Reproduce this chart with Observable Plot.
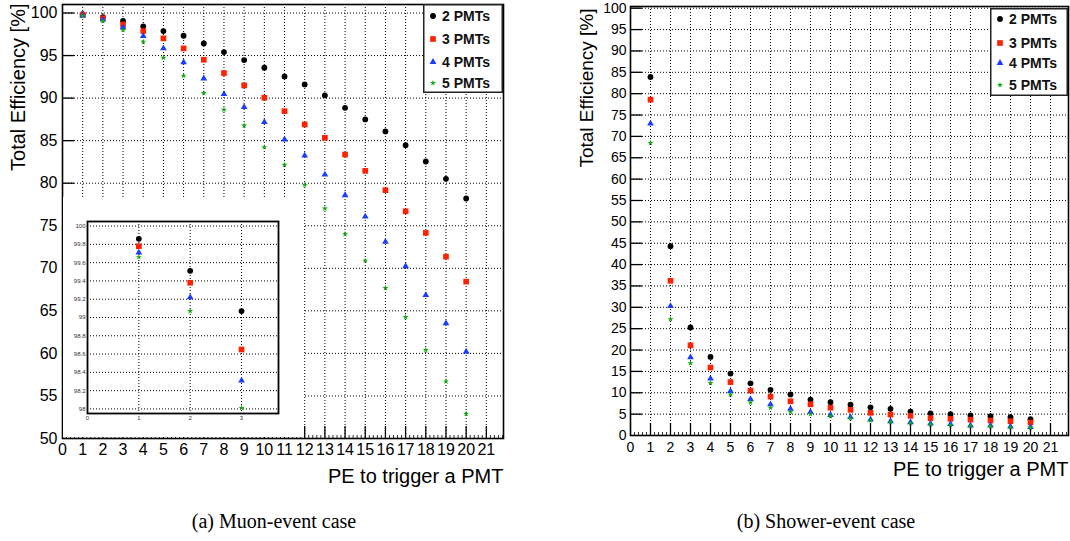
<!DOCTYPE html>
<html><head><meta charset="utf-8">
<script src="https://cdn.jsdelivr.net/npm/d3@7"></script>
<script src="https://cdn.jsdelivr.net/npm/@observablehq/plot@0.6"></script>
<style>
body{margin:0;background:#fff;}
#wrap{position:relative;width:1070px;height:541px;overflow:hidden;font-family:"Liberation Sans",Arial,sans-serif;}
#wrap svg{position:absolute;}
.cap{position:absolute;top:510px;font-family:"Liberation Serif","Times New Roman",serif;font-size:20px;white-space:nowrap;transform:translateX(-50%);color:#000;}
</style></head><body><div id="wrap"></div>
<script>
// ---------- data ----------
const pe = [1,2,3,4,5,6,7,8,9,10,11,12,13,14,15,16,17,18,19,20];
const seriesNames = ["2 PMTs","3 PMTs","4 PMTs","5 PMTs"];
// (a) Muon-event case
const muon2 = [99.86,99.51,99.07,98.43,97.88,97.33,96.43,95.41,94.47,93.57,92.55,91.61,90.31,88.86,87.49,86.08,84.47,82.55,80.51,78.2];
const muon3 = [99.78,99.38,98.65,97.88,97.02,95.84,94.51,92.94,91.49,90.04,88.47,86.9,85.33,83.37,81.45,79.18,76.7,74.16,71.37,68.43];
const muon4 = [99.71,99.22,98.31,97.29,95.84,94.2,92.31,90.47,88.94,87.18,85.14,83.25,81.02,78.59,76.08,73.1,70.24,66.86,63.53,60.2];
const muon5 = [99.66,99.07,98.01,96.63,94.74,92.63,90.59,88.63,86.78,84.24,82.16,79.8,77.02,74.04,70.9,67.68,64.27,60.39,56.7,52.9];
// (b) Shower-event case
const shower2 = [83.9,44.3,25.3,18.4,14.5,12.2,10.7,9.6,8.4,7.8,7.2,6.6,6.25,5.6,5.2,5.0,4.7,4.5,4.3,3.8];
const shower3 = [78.6,36.2,21.1,15.9,12.5,10.5,9.1,8.0,7.3,6.5,6.0,5.3,4.9,4.6,4.05,3.9,3.7,3.5,3.35,3.05];
const shower4 = [73.0,30.3,18.3,13.3,10.4,8.5,7.3,6.25,5.5,4.8,4.3,3.75,3.35,3.1,2.8,2.65,2.35,2.3,2.1,1.95];
const shower5 = [68.5,27.2,16.9,12.3,9.6,7.7,6.5,5.5,5.0,4.5,4.0,3.5,3.1,2.9,2.6,2.4,2.2,2.1,1.9,1.8];
// ticks
const xTicks = [0,1,2,3,4,5,6,7,8,9,10,11,12,13,14,15,16,17,18,19,20,21];
const xGrid = xTicks.slice(1);
const xMinor = d3.range(0,110).filter(i => i % 5 !== 0).map(i => i / 5);
const muonYTicks = [50,55,60,65,70,75,80,85,90,95,100];
const showerYTicks = [0,5,10,15,20,25,30,35,40,45,50,55,60,65,70,75,80,85,90,95,100];
const insetXTicks = [0,1,2,3];
const insetYTicks = [98,98.2,98.4,98.6,98.8,99,99.2,99.4,99.6,99.8,100];
const insetPE = pe.slice(0,3);

// ---------- styles ----------
const FONT = '"Liberation Sans", Arial, Helvetica, sans-serif';
const styles = [
  {symbol:"circle",   d3sym:d3.symbolCircle,   color:"#000000", r:2.9},
  {symbol:"square",   d3sym:d3.symbolSquare,   color:"#ff2200", r:3.2},
  {symbol:"triangle", d3sym:d3.symbolTriangle, color:"#1a3dff", r:2.5},
  {symbol:"star",     d3sym:d3.symbolStar,     color:"#14a814", r:1.9}
];
const rows = (xs, ys) => xs.map((p,i) => ({pe:p, eff:ys[i]}));
const dots = (sets) => sets.map((arr,k) => Plot.dot(arr, {x:"pe", y:"eff", symbol:styles[k].symbol, fill:styles[k].color, r:styles[k].r, stroke:"none"}));
const dotted = {stroke:"#000", strokeOpacity:1, strokeDasharray:"1,2", strokeWidth:1};

const W = 535, H = 490;
function mainPanel(o) {
  const plotW = W - o.ml - o.mr, plotH = H - o.mt - o.mb;
  return Plot.plot({
    width:W, height:H, marginLeft:o.ml, marginRight:o.mr, marginTop:o.mt, marginBottom:o.mb,
    style:{fontFamily:FONT, fontSize:o.fs+"px", background:"transparent", color:"#000"},
    x:{domain:o.xDomain},
    y:{domain:o.yDomain},
    marks:[
      Plot.gridX(xGrid, dotted),
      Plot.gridY(o.yTicks.slice(1), dotted),
      Plot.tickX(xGrid, {x:d=>d, insetTop:plotH-12, stroke:"#000", strokeWidth:1.3}),
      Plot.tickX(xMinor, {x:d=>d, insetTop:plotH-3, stroke:"#000", strokeWidth:0.8}),
      Plot.tickY(o.yTicks.slice(1), {y:d=>d, insetRight:plotW-12, stroke:"#000", strokeWidth:1.3}),
      Plot.axisX(xTicks, {tickSize:0, tickPadding:o.xpad, label:null, fontSize:o.fs, tickFormat:d=>String(d)}),
      Plot.axisY(o.yTicks, {tickSize:0, tickPadding:o.ypad, label:null, fontSize:o.fs, tickFormat:d=>String(d)}),
      ...dots(o.sets),
      Plot.frame({stroke:"#000", strokeWidth:1.6}),
      Plot.text([o.ytitle], {text:d=>d, frameAnchor:"top-left", rotate:-90, textAnchor:"end", dx:o.ytdx, dy:o.ytdy, fontSize:o.ytfs, fill:"#000"}),
      Plot.text([o.xtitle], {text:d=>d, frameAnchor:"bottom-right", textAnchor:"end", dy:o.xtdy, fontSize:20, fill:"#000"})
    ]
  });
}

const wrap = document.getElementById("wrap");

// (a)
const left = mainPanel({ml:62, mr:32, mt:4, mb:52, fs:16, xpad:5, ypad:5,
  xDomain:[0,21.85], yDomain:[50,101], yTicks:muonYTicks,
  sets:[rows(pe,muon2),rows(pe,muon3),rows(pe,muon4),rows(pe,muon5)],
  ytitle:"Total Efficiency [%]", ytdx:-52, ytdy:-1, ytfs:20,
  xtitle:"PE to trigger a PMT", xtdy:44});
left.style.left = "0px"; left.style.top = "0px";
wrap.appendChild(left);

// inset
const inset = Plot.plot({
  width:240, height:240, marginLeft:24, marginRight:25, marginTop:24, marginBottom:24,
  style:{fontFamily:FONT, fontSize:"6px", background:"#fff", color:"#000"},
  x:{domain:[0,3.72]}, y:{domain:[97.95,100.05]},
  marks:[
    Plot.gridX(insetXTicks.slice(1), dotted),
    Plot.gridY(insetYTicks, dotted),
    Plot.axisX(insetXTicks, {tickSize:0, tickPadding:2, label:null, fontSize:6, fill:"#333", tickFormat:d=>String(d)}),
    Plot.axisY(insetYTicks, {tickSize:0, tickPadding:2, label:null, fontSize:6, fill:"#333", tickFormat:d=>String(d)}),
    ...dots([rows(insetPE,muon2),rows(insetPE,muon3),rows(insetPE,muon4),rows(insetPE,muon5)]),
    Plot.frame({stroke:"#000", strokeWidth:1.8})
  ]
});
inset.style.left = "63px"; inset.style.top = "197px";
wrap.appendChild(inset);

// (b)
const right = mainPanel({ml:95, mr:2, mt:6, mb:55, fs:14, xpad:7, ypad:4,
  xDomain:[0,21.9], yDomain:[0,100.4], yTicks:showerYTicks,
  sets:[rows(pe,shower2),rows(pe,shower3),rows(pe,shower4),rows(pe,shower5)],
  ytitle:"Total Efficiency [%]", ytdx:-51, ytdy:2, ytfs:19,
  xtitle:"PE to trigger a PMT", xtdy:40});
right.style.left = "535px"; right.style.top = "0px";
wrap.appendChild(right);

// legends
function legend(x, y, w, h, rowYs) {
  const svg = d3.create("svg").attr("width", w).attr("height", h)
    .style("left", x+"px").style("top", y+"px");
  svg.append("rect").attr("x",0.75).attr("y",0.75).attr("width",w-1.5).attr("height",h-1.5)
    .attr("fill","#fff").attr("stroke","#222").attr("stroke-width",1.5);
  styles.forEach((s,i) => {
    svg.append("path").attr("d", d3.symbol(s.d3sym, Math.PI*s.r*s.r)())
      .attr("transform", `translate(10,${rowYs[i]})`).attr("fill", s.color);
    svg.append("text").attr("x",19).attr("y",rowYs[i]).attr("dy","0.36em")
      .attr("font-family",FONT).attr("font-weight","bold").attr("font-size",14).attr("fill","#111")
      .text(seriesNames[i]);
  });
  wrap.appendChild(svg.node());
}
legend(423, 4, 80, 89, [12,35,58,79]);
legend(990, 8, 78, 88, [11,35,55,77]);

// captions
const capA = document.createElement("div"); capA.className="cap"; capA.style.left="274px"; capA.textContent="(a) Muon-event case"; wrap.appendChild(capA);
const capB = document.createElement("div"); capB.className="cap"; capB.style.left="826px"; capB.textContent="(b) Shower-event case"; wrap.appendChild(capB);
</script></body></html>
